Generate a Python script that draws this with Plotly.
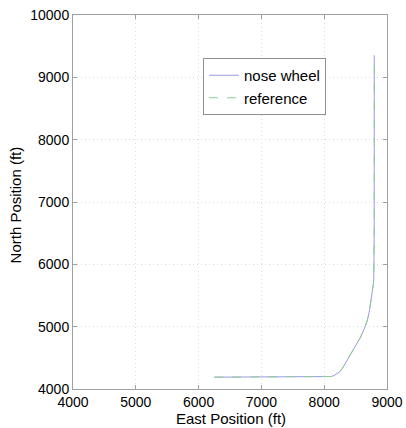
import plotly.graph_objects as go

# Nose wheel track (ft)
nose_east = [6250, 7000, 8000, 8060, 8110, 8160, 8206, 8250, 8285, 8350, 8418, 8500, 8577, 8635, 8684, 8715, 8737, 8758, 8774, 8785, 8790, 8794, 8796, 8797, 8797]
nose_north = [4190, 4190, 4190, 4192, 4200, 4218, 4243, 4280, 4323, 4440, 4562, 4700, 4828, 4960, 5093, 5225, 5358, 5490, 5623, 5700, 5783, 6000, 6500, 8000, 9350]

# Reference track (ft)
ref_east = [6250, 7000, 8000, 8060, 8110, 8160, 8206, 8250, 8285, 8350, 8418, 8500, 8577, 8635, 8684, 8715, 8737, 8758, 8774, 8785, 8790, 8794, 8796, 8797, 8797]
ref_north = [4190, 4190, 4190, 4192, 4200, 4218, 4243, 4280, 4323, 4440, 4562, 4700, 4828, 4960, 5093, 5225, 5358, 5490, 5623, 5700, 5783, 6000, 6500, 8000, 9350]

x_ticks = [4000, 5000, 6000, 7000, 8000, 9000]
y_ticks = [4000, 5000, 6000, 7000, 8000, 9000, 10000]

x_title = "East Position (ft)"
y_title = "North Position (ft)"

PB = 389  # plot bottom pixel
PH = PB - 15
PW = 313.7

fig = go.Figure()
fig.add_trace(go.Scatter(x=nose_east, y=nose_north, mode="lines", name="nose wheel",
                         line=dict(color="#9a9aea", width=1)))
fig.add_trace(go.Scatter(x=ref_east, y=ref_north, mode="lines", name="reference",
                         line=dict(color="#8fcf8f", width=1, dash="dash")))

axis_common = dict(
    showgrid=True, gridcolor="#dcdcdc", griddash="1px,3px", gridwidth=1,
    showline=True, linecolor="#a0a0a0", linewidth=1, mirror="ticks",
    ticks="inside", ticklen=4, tickcolor="#a0a0a0",
    zeroline=False, tickfont=dict(size=14, color="black"),
)

fig.update_layout(
    width=406, height=428,
    margin=dict(l=73, r=19, t=15, b=428 - PB, autoexpand=False),
    paper_bgcolor="white", plot_bgcolor="white",
    font=dict(family="Liberation Sans, Arial, sans-serif", size=15, color="black"),
    xaxis=dict(range=[4000, 9000], tickvals=x_ticks, ticktext=[str(v) for v in x_ticks],
               **axis_common),
    yaxis=dict(range=[4000, 10000], tickvals=y_ticks, ticktext=[str(v) for v in y_ticks],
               **axis_common),
    legend=dict(x=0.414, y=0.885, xanchor="left", yanchor="top",
                bgcolor="white", bordercolor="#909090", borderwidth=1,
                font=dict(size=15), tracegroupgap=0, itemwidth=30),
    showlegend=True,
    annotations=[
        dict(text=x_title, xref="paper", yref="paper", x=(230.5 - 73) / PW,
             y=-(428 - PB) / PH, xanchor="center", yanchor="bottom", yshift=-1,
             showarrow=False, font=dict(size=15)),
        dict(text=y_title, xref="paper", yref="paper", x=-(73 - 15.5) / PW,
             y=(PB - 205) / PH, xanchor="center", yanchor="middle",
             textangle=-90, showarrow=False, font=dict(size=15)),
    ],
)

fig.write_html("out.html")
